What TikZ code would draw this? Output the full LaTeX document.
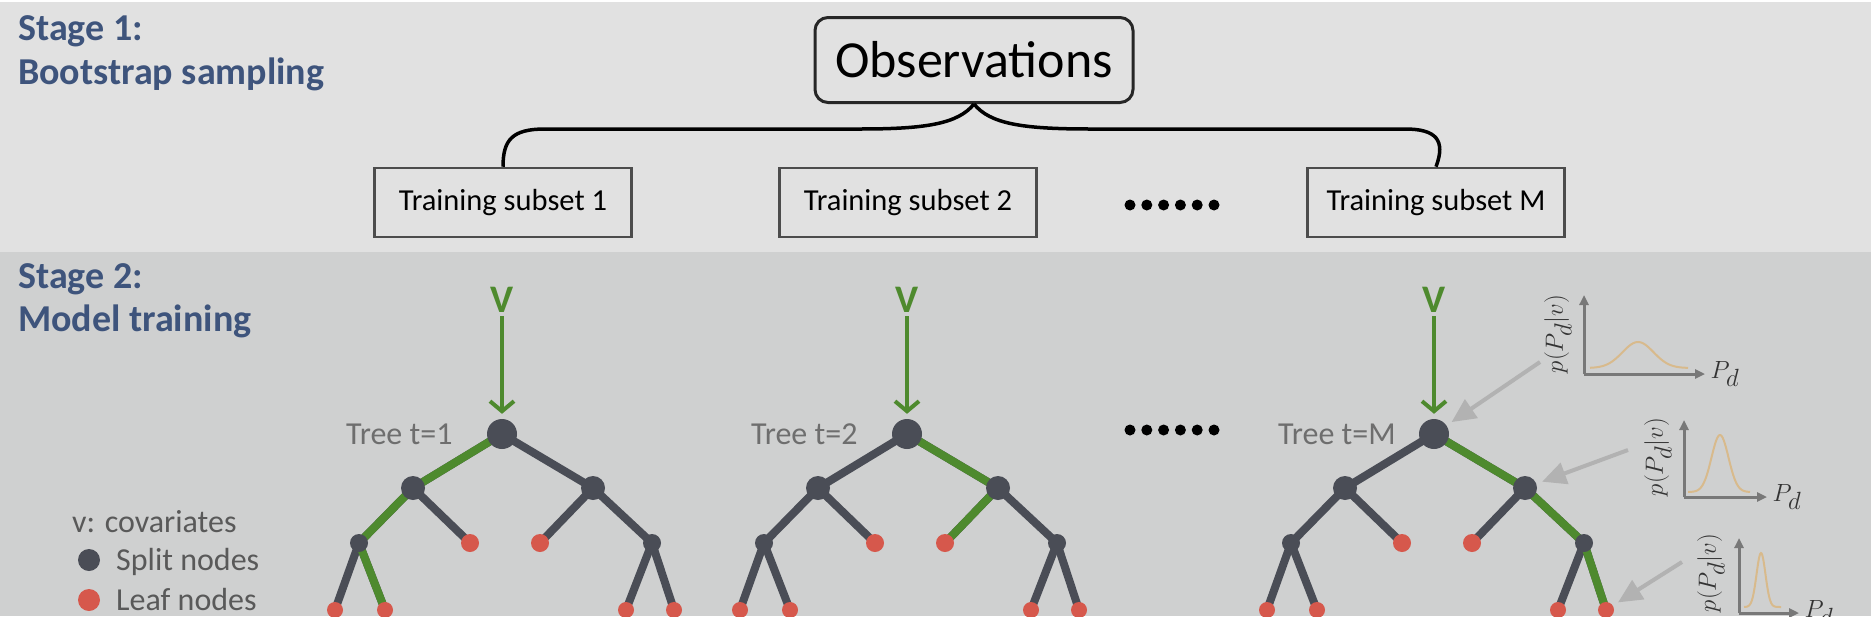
\documentclass[tikz,border=0pt]{standalone}
\usepackage{fontspec}
\setmainfont{Carlito}
\usetikzlibrary{positioning,arrows.meta}

\definecolor{stageblue}{RGB}{62,84,124}
\definecolor{bandtop}{RGB}{225,225,225}
\definecolor{bandbot}{RGB}{207,208,208}
\definecolor{splitgray}{RGB}{74,77,86}
\definecolor{pathgreen}{RGB}{78,138,46}
\definecolor{leafred}{RGB}{214,88,76}
\definecolor{labgray}{RGB}{110,110,110}
\definecolor{pointgray}{RGB}{178,178,178}
\definecolor{axisgray}{RGB}{120,120,120}
\definecolor{denstan}{RGB}{216,186,140}

\pgfdeclarelayer{bands}
\pgfdeclarelayer{branches}
\pgfsetlayers{bands,branches,main}

\tikzset{
  stagelab/.style={anchor=base west, inner sep=0pt, text=stageblue,
    font=\fontsize{38}{40}\selectfont\bfseries},
  obsbox/.style={draw=black!85, line width=3pt, rounded corners=13pt,
    minimum width=318pt, minimum height=85pt, font=\fontsize{52}{54}\selectfont},
  subsetbox/.style={draw=black!70, line width=2.5pt, minimum width=257pt,
    minimum height=69pt, text=black, font=\fontsize{30.5}{32}\selectfont},
  brace/.style={line width=3.5pt, black},
  splitnode/.style={circle, fill=splitgray, inner sep=0pt},
  leafnode/.style={circle, fill=leafred, inner sep=0pt, minimum size=18pt},
  branch/.style={splitgray, line width=8pt},
  onpath/.style={pathgreen, line width=8pt, line join=round},
  covlab/.style={text=pathgreen, font=\fontsize{39}{41}\selectfont\bfseries},
  feed/.style={pathgreen, line width=4pt, -{Straight Barb[length=10pt,width=24pt]},
    shorten >=5pt},
  treelab/.style={anchor=west, text=labgray, font=\fontsize{32}{34}\selectfont, inner sep=0pt},
  legendlab/.style={anchor=base west, inner sep=0pt, text=black!65,
    font=\fontsize{32}{34}\selectfont},
  axis/.style={axisgray, line width=3pt, -{Triangle[length=10pt,width=9pt]}},
  dens/.style={denstan, line width=2pt},
  densylab/.style={rotate=90, text=black!80, font=\fontsize{33}{35}\selectfont, inner sep=0pt},
  pdlab/.style={text=black!80, font=\fontsize{33}{35}\selectfont, inner sep=4pt},
  pointer/.style={pointgray, line width=4pt, -{Triangle[length=24pt,width=22pt]},
    shorten >=6pt},
}

\begin{document}
\begin{tikzpicture}[x=1pt, y=-1pt]
  \useasboundingbox (0,0) rectangle (1871,616);

  % bands
  \begin{pgfonlayer}{bands}
    \fill[bandtop] (0,0) rectangle (1871,252);
    \fill[white] (0,0) rectangle (1871,2);
    \fill[bandbot] (0,252) rectangle (1871,616);
  \end{pgfonlayer}

  % stage 1
  \node[stagelab] (s1a) at (18,40) {Stage 1:};
  \node[stagelab] (s1b) at (18,84) {Bootstrap sampling};
  \node[obsbox] (obs) at (974,60) {Observations};
  \node[subsetbox] (sub1) at (503,202.5) {Training subset 1};
  \node[subsetbox] (sub2) at (908,202.5) {Training subset 2};
  \node[subsetbox] (subM) at (1436,202.5) {Training subset M};
  \draw[brace] (obs.south) .. controls (958,124) and (925,129) .. (860,129)
    -- (545,129) .. controls (512,129) and (503,140) .. (sub1.north);
  \draw[brace] (obs.south) .. controls (990,124) and (1023,129) .. (1090,129)
    -- (1405,129) .. controls (1436,129) and (1446,140) .. (subM.north);
  \foreach \k in {0,...,5}
    \fill ({1130+16.8*\k},205) circle (5.5pt);

  % stage 2
  \node[stagelab] (s2a) at (18,288) {Stage 2:};
  \node[stagelab] (s2b) at (18,331) {Model training};

  % trees
  \foreach \t/\cx in {1/502, 2/907, M/1434} {
    \begin{scope}[shift={(\cx,0)}]
      \node[splitnode, minimum size=30pt] (r\t) at (0,434) {};
      \node[splitnode, minimum size=24pt] (a\t) at (-89,488) {};
      \node[splitnode, minimum size=24pt] (b\t) at (91,488) {};
      \node[splitnode, minimum size=18pt] (c\t) at (-143,543) {};
      \node[leafnode] (d\t) at (-32,543) {};
      \node[leafnode] (e\t) at (38,543) {};
      \node[splitnode, minimum size=18pt] (f\t) at (150,543) {};
      \node[leafnode, minimum size=16pt] (g\t) at (-167,610) {};
      \node[leafnode, minimum size=16pt] (h\t) at (-117,610) {};
      \node[leafnode, minimum size=16pt] (i\t) at (124,610) {};
      \node[leafnode, minimum size=16pt] (j\t) at (172,610) {};
      \node[covlab] (v\t) at (0,300) {V};
      \node[treelab] (n\t) at (-156,434) {Tree t=\t};
      \draw[feed] (v\t) -- (r\t);
    \end{scope}
  }
  \begin{pgfonlayer}{branches}
    \foreach \t in {1,2,M}
      \foreach \p/\q in {r/a, r/b, a/c, a/d, b/e, b/f, c/g, c/h, f/i, f/j}
        \draw[branch] (\p\t.center) -- (\q\t.center);
    \draw[onpath] (r1.center) -- (a1.center) -- (c1.center) -- (h1.center);
    \draw[onpath] (r2.center) -- (b2.center) -- (e2.center);
    \draw[onpath] (rM.center) -- (bM.center) -- (fM.center) -- (jM.center);
  \end{pgfonlayer}
  \foreach \k in {0,...,5}
    \fill ({1130+16.8*\k},430) circle (5.5pt);

  % legend
  \node[legendlab] (cov) at (72,532) {v: covariates};
  \node[splitnode, minimum size=22pt] (ksplit) at (89,560) {};
  \node[legendlab] (ksplitlab) at (116,570) {Split nodes};
  \node[leafnode, minimum size=22pt] (kleaf) at (89,600) {};
  \node[legendlab] (kleaflab) at (116,610) {Leaf nodes};

  % densities
  \begin{scope}[shift={(1584,374)}]
    \coordinate (o1) at (0,0);
    \draw[axis] (o1) -- (0,-79);
    \draw[axis] (o1) -- (121,0) node[pdlab, right] (x1) {$P_d$};
    \node[densylab] (y1) at (-26,-40) {$p(P_d|v)$};
    \draw[dens] plot[domain=6:104, samples=60] (\x, {-6-26*exp(-(\x-54)*(\x-54)/484)});
  \end{scope}
  \begin{scope}[shift={(1684,497)}]
    \coordinate (o2) at (0,0);
    \draw[axis] (o2) -- (0,-77);
    \draw[axis] (o2) -- (83,0) node[pdlab, right] (x2) {$P_d$};
    \node[densylab] (y2) at (-26,-40) {$p(P_d|v)$};
    \draw[dens] plot[domain=4:66, samples=60] (\x, {-5-57*exp(-(\x-36)*(\x-36)/144)});
  \end{scope}
  \begin{scope}[shift={(1739,613)}]
    \coordinate (o3) at (0,0);
    \draw[axis] (o3) -- (0,-75);
    \draw[axis] (o3) -- (60,0) node[pdlab, right] (x3) {$P_d$};
    \node[densylab] (y3) at (-28,-40) {$p(P_d|v)$};
    \draw[dens] plot[domain=5:42, samples=60] (\x, {-6-54*exp(-(\x-22)*(\x-22)/40)});
  \end{scope}

  % pointers
  \coordinate (q1) at (1540,362);
  \coordinate (q2) at (1628,450);
  \coordinate (q3) at (1682,562);
  \draw[pointer] (q1) -- (rM);
  \draw[pointer] (q2) -- (bM);
  \draw[pointer] (q3) -- (jM);
\end{tikzpicture}
\end{document}
